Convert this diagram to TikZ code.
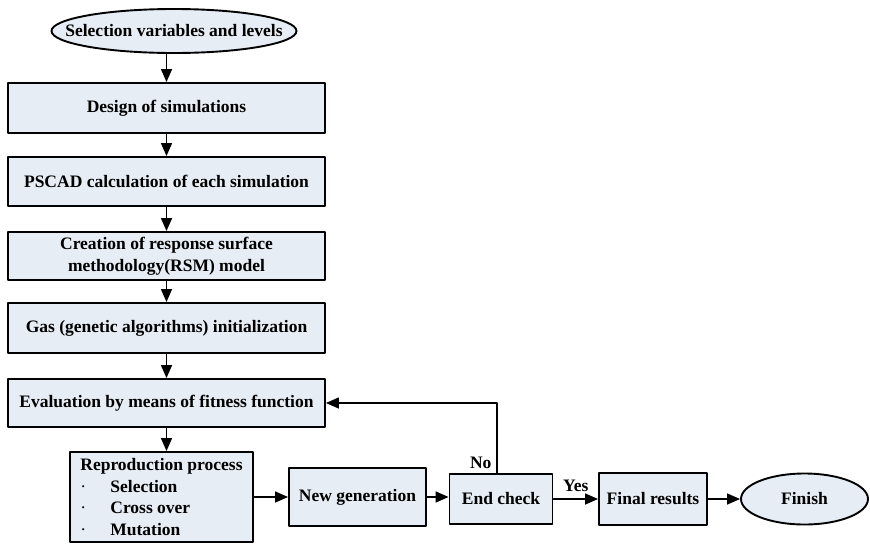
\documentclass[tikz,border=0pt]{standalone}
\usepackage{fontspec}
\setmainfont{Liberation Serif}
\usetikzlibrary{shapes.geometric,arrows.meta}
\definecolor{boxfill}{RGB}{231,237,245}
\newcommand{\bulletitem}[1]{\makebox[30pt][l]{\mdseries\textperiodcentered}#1}
\begin{document}
\begin{tikzpicture}[x=1pt,y=-1pt,line cap=round,line join=round,
  font=\fontsize{17.5}{21.7}\selectfont\bfseries,
  stepbox/.style={draw,line width=1.9pt,fill=boxfill,inner sep=2pt,align=center},
  endbox/.style={stepbox,ellipse,inner sep=0pt},
  flow/.style={line width=1.5pt,-{Triangle[length=13pt,width=11pt]}}]

\useasboundingbox (0,0) rectangle (870,544);

% ---- main column ----
\node[endbox,inner xsep=-25pt,inner ysep=2pt,minimum width=245pt,minimum height=44pt] (sel) at (174,31) {Selection variables and levels};
\node[stepbox,minimum width=317pt,minimum height=50pt] (design) at (166.5,108) {Design of simulations};
\node[stepbox,minimum width=317pt,minimum height=49pt] (pscad) at (166.5,181.5) {PSCAD calculation of each simulation};
\node[stepbox,minimum width=317pt,minimum height=48pt] (rsm) at (166.5,256) {Creation of response surface\\methodology(RSM) model};
\node[stepbox,minimum width=317pt,minimum height=50pt] (gas) at (166.5,328) {Gas (genetic algorithms) initialization};
\node[stepbox,minimum width=317pt,minimum height=48pt] (eval) at (166.5,403) {Evaluation by means of fitness function};

% ---- bottom row ----
\node[stepbox,align=left,minimum width=183pt,minimum height=90pt] (repro) at (161.5,497)
  {Reproduction process\\\bulletitem{Selection}\\\bulletitem{Cross over}\\\bulletitem{Mutation}};
\node[stepbox,minimum width=137pt,minimum height=58pt] (newgen) at (357.5,497) {New generation};
\node[stepbox,minimum width=103pt,minimum height=50pt] (endchk) at (501,499) {End check};
\node[stepbox,minimum width=108pt,minimum height=52pt] (final) at (653,499) {Final results};
\node[endbox,minimum width=127pt,minimum height=51pt] (finish) at (804.5,499) {Finish};

% ---- connectors ----
\draw[flow] (design |- sel.south) -- (design);
\draw[flow] (design) -- (pscad);
\draw[flow] (pscad) -- (rsm);
\draw[flow] (rsm) -- (gas);
\draw[flow] (gas) -- (eval);
\draw[flow] (eval) -- (eval |- repro.north);
\draw[flow] (repro) -- (newgen);
\draw[flow] (newgen) -- (newgen -| endchk.west);
\draw[flow] (endchk) -- node[above=3pt] {Yes} (final);
\draw[flow] (final) -- (finish);

% loop back
\draw[flow] ([xshift=-4pt]endchk.north) |- (eval.east);
\node[anchor=south east] (nolbl) at ([xshift=-6pt,yshift=1pt]endchk.north) {No};

\end{tikzpicture}
\end{document}
